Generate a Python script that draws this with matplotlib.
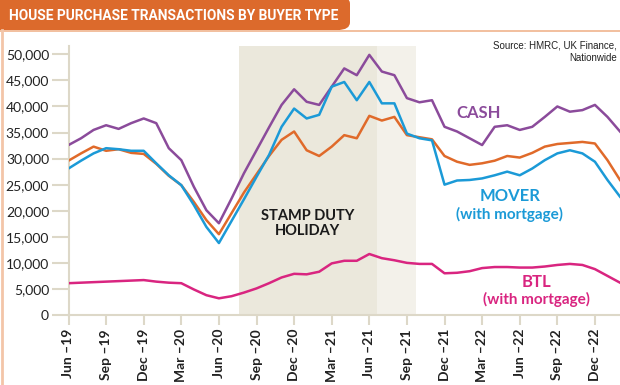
import matplotlib
matplotlib.use("Agg")
import matplotlib.pyplot as plt
from matplotlib.patches import FancyBboxPatch, Rectangle
from matplotlib.lines import Line2D

# monthly values (thousands), Jun-19 .. Feb-23
months = ["Jun", "Jul", "Aug", "Sep", "Oct", "Nov", "Dec", "Jan", "Feb", "Mar", "Apr", "May"]
labels = [f"{months[i % 12]} \u2013{19 + (i + 5) // 12}" for i in range(45)]

cash = [32.6, 33.9, 35.5, 36.4, 35.7, 36.8, 37.7, 36.8, 32.0, 29.7, 24.6, 20.1, 17.6,
        22.3, 27.2, 31.6, 36.0, 40.3, 43.3, 40.9, 40.3, 43.8, 47.3, 46.0, 49.9, 46.7,
        46.0, 41.6, 40.8, 41.2, 36.1, 35.2, 33.9, 32.6, 36.1, 36.4, 35.5, 36.1, 38.0,
        40.0, 39.0, 39.3, 40.3, 38.0, 35.2]
mover = [28.1, 29.6, 31.0, 32.0, 31.8, 31.5, 31.5, 29.1, 26.8, 24.9, 21.1, 16.9, 13.8,
         18.0, 22.2, 26.5, 30.7, 36.1, 39.6, 37.7, 38.4, 43.8, 44.7, 41.2, 44.7, 40.6,
         40.6, 34.8, 33.9, 33.5, 25.0, 25.8, 25.9, 26.2, 26.8, 27.5, 26.8, 28.1, 29.7,
         31.0, 31.6, 31.0, 29.4, 25.9, 22.7]
orange = [29.6, 31.0, 32.3, 31.5, 31.8, 31.1, 30.9, 29.0, 26.7, 24.9, 21.7, 18.2, 15.5,
          19.5, 23.5, 27.0, 30.5, 33.6, 35.2, 31.6, 30.5, 32.3, 34.5, 33.9, 38.2, 37.3,
          38.0, 34.5, 34.1, 33.7, 30.5, 29.4, 28.8, 29.1, 29.6, 30.5, 30.2, 31.1, 32.3,
          32.8, 33.0, 33.2, 32.9, 29.7, 25.9]
btl = [6.1, 6.2, 6.3, 6.4, 6.5, 6.6, 6.7, 6.4, 6.2, 6.1, 4.9, 3.8, 3.2,
       3.6, 4.3, 5.1, 6.1, 7.2, 7.9, 7.8, 8.3, 9.9, 10.4, 10.4, 11.7, 10.9,
       10.5, 10.0, 9.8, 9.8, 8.0, 8.1, 8.4, 9.0, 9.2, 9.2, 9.1, 9.1, 9.3,
       9.6, 9.8, 9.6, 8.8, 7.5, 6.2]

# stamp duty holiday (month index): full relief, then taper
holiday_start, holiday_full_end, holiday_end = 13.6, 24.6, 27.7

x = list(range(len(cash)))
c_cash = "#8b4b9b"
c_mover = "#1b9ad7"
c_orange = "#e06a2a"
c_btl = "#d92580"
c_axis = "#ddd8c8"

fig = plt.figure(figsize=(6.2, 3.85), dpi=100)
W, H = 620, 385

# title tab
fig.patches.append(FancyBboxPatch((0, 1 - 30 / H), 350 / W, 34 / H,
                                  boxstyle="round,pad=0,rounding_size=0.02",
                                  transform=fig.transFigure, facecolor="#dc6a2c",
                                  edgecolor="none", zorder=1))
fig.patches.append(Rectangle((0, 1 - 30 / H), 340 / W, 38 / H, transform=fig.transFigure,
                             facecolor="#dc6a2c", edgecolor="none", zorder=1))
fig.text(9 / W, 1 - 16 / H, "HOUSE PURCHASE TRANSACTIONS BY BUYER TYPE", color="white",
         fontsize=9.9, fontweight="bold", family="Roboto", va="center", ha="left", zorder=3)
fig.lines.append(Line2D([0, 1], [1 - 30.5 / H] * 2, transform=fig.transFigure,
                        color="#f0b48e", lw=1.2))
fig.lines.append(Line2D([2 / W] * 2, [0, 1 - 30 / H], transform=fig.transFigure,
                        color="#f3c5a8", lw=2))

ax = fig.add_axes([68.5 / W, 1 - 315 / H, (W - 68.5) / W, (315 - 46) / H])
ax.set_xlim(0, 44)
ax.set_ylim(0, 51.6)

ax.axvspan(holiday_start, holiday_full_end, color="#ebe8dc", lw=0, zorder=0)
ax.axvspan(holiday_full_end, holiday_end, color="#f3f1ea", lw=0, zorder=0)

for series, col in [(cash, c_cash), (orange, c_orange), (mover, c_mover), (btl, c_btl)]:
    ax.plot(x, series, color=col, lw=1.8, zorder=3, solid_joinstyle="round")

for s in ["top", "right"]:
    ax.spines[s].set_visible(False)
for s in ["left", "bottom"]:
    ax.spines[s].set_color(c_axis)
    ax.spines[s].set_linewidth(1.5)

ax.set_yticks(range(0, 51, 5))
ax.set_yticklabels([f"{v * 1000:,}" for v in range(0, 51, 5)], fontsize=10,
                   family="Lato", color="#222222")
tick_idx = list(range(0, 45, 3))
ax.set_xticks(tick_idx)
ax.set_xticklabels([labels[i] for i in tick_idx], rotation=90, fontsize=10, family="Lato",
                   fontweight="bold", color="#222222")
ax.tick_params(axis="y", length=12, width=1.5, color=c_axis, pad=2)
ax.tick_params(axis="x", length=7, width=1.5, color=c_axis, pad=3)

ax.text(19.1, 17.5, "STAMP DUTY\nHOLIDAY", ha="center", va="center", fontsize=10.5,
        fontweight="bold", family="Lato", color="#1a1a1a", linespacing=1.1)
ax.text(32.7, 38.8, "CASH", ha="center", va="center", fontsize=12, fontweight="bold",
        family="Lato", color=c_cash)
ax.text(35.2, 22.8, "MOVER", ha="center", va="center", fontsize=12, fontweight="bold",
        family="Lato", color=c_mover)
ax.text(35.2, 19.2, "(with mortgage)", ha="center", va="center", fontsize=11,
        fontweight="bold", family="Lato", color=c_mover)
ax.text(37.3, 6.4, "BTL", ha="center", va="center", fontsize=12, fontweight="bold",
        family="Lato", color=c_btl)
ax.text(37.3, 2.9, "(with mortgage)", ha="center", va="center", fontsize=11,
        fontweight="bold", family="Lato", color=c_btl)

fig.text(617 / W, 1 - 46 / H, "Source: HMRC, UK Finance,", fontsize=7,
         family="Liberation Sans", color="#222222", va="center", ha="right")
fig.text(617 / W, 1 - 58 / H, "Nationwide", fontsize=7, family="Liberation Sans",
         color="#222222", va="center", ha="right")

fig.savefig("out.png", dpi=100)
